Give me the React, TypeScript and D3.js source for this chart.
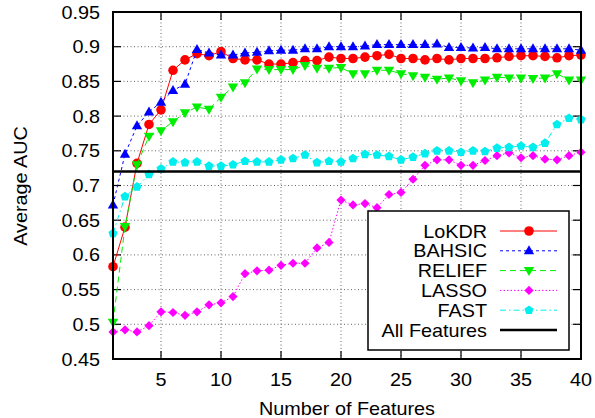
import React from "react";
import * as d3 from "d3";

const features = d3.range(1, 41);
const lokdr = [0.583,0.640,0.732,0.788,0.809,0.866,0.881,0.890,0.887,0.893,
  0.883,0.881,0.881,0.875,0.875,0.877,0.880,0.880,0.885,0.883,
  0.883,0.885,0.887,0.889,0.883,0.883,0.881,0.883,0.881,0.883,
  0.883,0.883,0.884,0.886,0.887,0.887,0.886,0.884,0.887,0.888];
const bahsic = [0.672,0.745,0.786,0.806,0.820,0.837,0.846,0.896,0.891,0.888,
  0.888,0.891,0.892,0.894,0.895,0.895,0.897,0.897,0.900,0.900,
  0.900,0.901,0.903,0.903,0.903,0.903,0.903,0.904,0.899,0.899,
  0.898,0.899,0.897,0.897,0.897,0.897,0.897,0.897,0.897,0.895];
const relief = [0.503,0.641,0.730,0.771,0.779,0.792,0.805,0.813,0.810,0.827,
  0.842,0.848,0.868,0.867,0.867,0.867,0.873,0.869,0.869,0.870,
  0.861,0.861,0.866,0.866,0.861,0.858,0.856,0.853,0.855,0.851,
  0.848,0.852,0.856,0.855,0.855,0.854,0.855,0.861,0.852,0.852];
const lasso = [0.489,0.492,0.489,0.498,0.518,0.517,0.513,0.518,0.528,0.531,
  0.540,0.573,0.577,0.578,0.585,0.588,0.588,0.610,0.618,0.679,
  0.672,0.674,0.668,0.687,0.690,0.709,0.729,0.737,0.737,0.729,
  0.729,0.736,0.743,0.747,0.740,0.743,0.738,0.737,0.743,0.748];
const fast = [0.631,0.684,0.698,0.716,0.724,0.734,0.733,0.734,0.728,0.728,
  0.730,0.735,0.734,0.734,0.737,0.739,0.744,0.733,0.735,0.734,
  0.739,0.745,0.744,0.742,0.737,0.741,0.746,0.750,0.750,0.748,
  0.750,0.749,0.754,0.755,0.757,0.755,0.761,0.788,0.797,0.795];
const allFeatures = 0.72;

const xTicks = [5, 10, 15, 20, 25, 30, 35, 40];
const yTicks = [0.45, 0.5, 0.55, 0.6, 0.65, 0.7, 0.75, 0.8, 0.85, 0.9, 0.95];

type Shape = "circle" | "up" | "down" | "diamond" | "pentagon";
const seriesList: { name: string; values: number[]; color: string; dash: string; shape: Shape }[] = [
  { name: "LoKDR", values: lokdr, color: "#ff0000", dash: "none", shape: "circle" },
  { name: "BAHSIC", values: bahsic, color: "#0000ff", dash: "3,3", shape: "up" },
  { name: "RELIEF", values: relief, color: "#00ee00", dash: "6,4", shape: "down" },
  { name: "LASSO", values: lasso, color: "#ff00ff", dash: "1.5,2", shape: "diamond" },
  { name: "FAST", values: fast, color: "#00eeee", dash: "6,3,1.5,3", shape: "pentagon" },
];

const W = 595, H = 418;
const L = 113, R = 581, T = 12, B = 359;
const x = d3.scaleLinear().domain([1, 40]).range([L, R]);
const y = d3.scaleLinear().domain([0.45, 0.95]).range([B, T]);

function markerPath(shape: Shape): string {
  if (shape === "circle") {
    const r = 4.8;
    return `M${-r},0A${r},${r} 0 1,0 ${r},0A${r},${r} 0 1,0 ${-r},0Z`;
  }
  if (shape === "up") {
    return "M0,-5.5L5.2,3.5L-5.2,3.5Z";
  }
  if (shape === "down") {
    return "M0,5.5L5.2,-3.5L-5.2,-3.5Z";
  }
  if (shape === "diamond") {
    return "M0,-4.6L4.6,0L0,4.6L-4.6,0Z";
  }
  const pts = d3.range(5).map((k) => {
    const a = -Math.PI / 2 + (k * 2 * Math.PI) / 5;
    return [4.8 * Math.cos(a), 4.8 * Math.sin(a)];
  });
  return "M" + pts.map((p) => p[0].toFixed(2) + "," + p[1].toFixed(2)).join("L") + "Z";
}

const FONT = "'Liberation Sans', Arial, Helvetica, sans-serif";
const FS = 18;
const SX = 1.1;

function Txt({ x: tx, y: ty, anchor, children, rotate }: any) {
  const tr = rotate
    ? `translate(${tx},${ty}) rotate(${rotate}) scale(${SX},1)`
    : `translate(${tx},${ty}) scale(${SX},1)`;
  return (
    <text transform={tr} textAnchor={anchor} fontFamily={FONT} fontSize={FS} fill="#000">
      {children}
    </text>
  );
}

export default function App() {
  const line = d3
    .line<number>()
    .x((_, i) => x(features[i]))
    .y((v) => y(v));

  const legX = 368, legY = 211, legW = 201, legH = 139;
  const rowY = (k: number) => 231 + k * 19.8;

  return (
    <svg width={W} height={H} style={{ position: "absolute", left: 0, top: 0, background: "#fff" }}>
      <rect width={W} height={H} fill="#fff" />
      {/* grid */}
      <g stroke="#666" strokeWidth={1} strokeDasharray="1,2.5">
        {xTicks.filter((t) => t < 40).map((t) => (
          <line key={"gx" + t} x1={x(t)} x2={x(t)} y1={T} y2={B} />
        ))}
        {yTicks.filter((t) => t > 0.46 && t < 0.94).map((t) => (
          <line key={"gy" + t} x1={L} x2={R} y1={y(t)} y2={y(t)} />
        ))}
      </g>
      {/* ticks */}
      <g stroke="#000" strokeWidth={1.2}>
        {xTicks.filter((t) => t < 40).map((t) => (
          <g key={"tx" + t}>
            <line x1={x(t)} x2={x(t)} y1={B} y2={B - 8} />
            <line x1={x(t)} x2={x(t)} y1={T} y2={T + 8} />
          </g>
        ))}
        {yTicks.filter((t) => t > 0.46 && t < 0.94).map((t) => (
          <g key={"ty" + t}>
            <line x1={L} x2={L + 8} y1={y(t)} y2={y(t)} />
            <line x1={R} x2={R - 8} y1={y(t)} y2={y(t)} />
          </g>
        ))}
      </g>
      {/* series */}
      {seriesList.map((s) => (
        <g key={s.name}>
          <path d={line(s.values) || ""} fill="none" stroke={s.color} strokeWidth={1} strokeDasharray={s.dash} />
          {s.values.map((v, i) => (
            <path key={i} d={markerPath(s.shape)} transform={`translate(${x(features[i])},${y(v)})`} fill={s.color} />
          ))}
        </g>
      ))}
      <line x1={L} x2={R} y1={y(allFeatures)} y2={y(allFeatures)} stroke="#000" strokeWidth={2.5} />
      {/* legend */}
      <rect x={legX} y={legY} width={legW} height={legH} fill="#fff" stroke="#000" strokeWidth={1.5} />
      {seriesList.map((s, k) => (
        <g key={"lg" + s.name}>
          <Txt x={487} y={rowY(k) + 6.5} anchor="end">{s.name}</Txt>
          <line x1={500} x2={557} y1={rowY(k)} y2={rowY(k)} stroke={s.color} strokeWidth={1} strokeDasharray={s.dash} />
          <path d={markerPath(s.shape)} transform={`translate(529,${rowY(k)})`} fill={s.color} />
        </g>
      ))}
      <Txt x={487} y={rowY(5) + 6.5} anchor="end">All Features</Txt>
      <line x1={500} x2={557} y1={rowY(5)} y2={rowY(5)} stroke="#000" strokeWidth={2.5} />
      {/* frame */}
      <rect x={L} y={T} width={R - L} height={B - T} fill="none" stroke="#000" strokeWidth={2} />
      {/* tick labels */}
      {yTicks.map((t) => (
        <Txt key={"ly" + t} x={100} y={y(t) + 6.5} anchor="end">{String(t)}</Txt>
      ))}
      {xTicks.map((t) => (
        <Txt key={"lx" + t} x={x(t)} y={386} anchor="middle">{String(t)}</Txt>
      ))}
      <Txt x={347} y={415} anchor="middle">Number of Features</Txt>
      <Txt x={27} y={186} anchor="middle" rotate={-90}>Average AUC</Txt>
    </svg>
  );
}
